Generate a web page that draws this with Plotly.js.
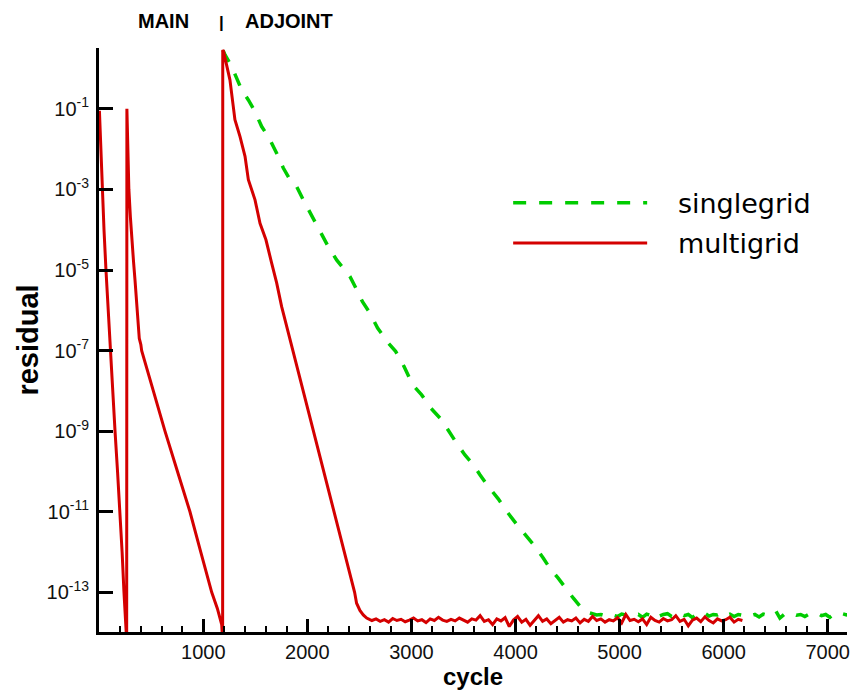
<!DOCTYPE html>
<html>
<head>
<meta charset="utf-8">
<script src="https://cdn.plot.ly/plotly-3.0.1.min.js"></script>
<style>html,body{margin:0;padding:0;background:#fff;}#chart{width:866px;height:690px;}</style>
</head>
<body>
<div id="chart"></div>
<script>
// ---- data (cycle, log10 residual) ----
var multigridCycles = [
  2, 4, 8, 24, 34, 46, 65, 88, 104, 128,
  152, 176, 200, 220, 238, 248, 258, 264, 266, 270,
  275, 285, 300, 312, 330, 344, 358, 370, 385, 400,
  408, 520, 632, 752, 872, 976, 1081, 1135, 1177, 1186,
  1187, 1195, 1205, 1225, 1256, 1288, 1304, 1353, 1401, 1433,
  1497, 1545, 1602, 1657, 1705, 1753, 1801, 1865, 1960, 2057,
  2156, 2256, 2355, 2454, 2473, 2505, 2537, 2570, 2601,
  2620, 2660, 2700, 2740, 2780, 2820, 2860, 2900, 2940, 2980,
  3020, 3060, 3100, 3140, 3180, 3220, 3260, 3300, 3340, 3380,
  3420, 3460, 3500, 3540, 3580, 3620, 3660, 3700, 3740, 3780,
  3820, 3860, 3900, 3940, 3980, 4020, 4060, 4100, 4140, 4180,
  4220, 4260, 4300, 4340, 4380, 4420, 4460, 4500, 4540, 4580,
  4620, 4660, 4700, 4740, 4780, 4820, 4860, 4900, 4940, 4980,
  5020, 5060, 5100, 5140, 5180, 5220, 5260, 5300, 5340, 5380,
  5420, 5460, 5500, 5540, 5580, 5620, 5660, 5700, 5740, 5780,
  5820, 5860, 5900, 5940, 5980, 6020, 6060, 6100, 6140, 6180
];
var multigridExp = [
  -1.05, -1.2, -1.5, -2.3, -3.0, -4.0, -5.0, -6.1, -7.0, -8.0,
  -9.0, -10.0, -11.0, -12.0, -13.0, -13.5, -14.2, -14.2, -1.0, -1.5,
  -2.3, -3.0, -3.7, -4.25, -4.8, -5.25, -5.8, -6.3, -6.7, -6.85,
  -7.0, -8.0, -9.0, -10.0, -11.0, -12.0, -13.0, -13.4, -13.8, -14.2,
  0.46, 0.42, 0.3, 0.13, -0.28, -0.94, -1.27, -1.69, -2.18, -2.76,
  -3.26, -3.84, -4.25, -4.83, -5.32, -5.91, -6.40, -7.02, -8.0, -9.0,
  -10.0, -11.0, -12.0, -13.0, -13.27, -13.45, -13.56, -13.64, -13.68,
  -13.70, -13.66, -13.72, -13.68, -13.74, -13.65, -13.70, -13.67, -13.73, -13.69,
  -13.64, -13.71, -13.68, -13.75, -13.66, -13.70, -13.62, -13.69, -13.72, -13.67,
  -13.71, -13.64, -13.70, -13.74, -13.66, -13.69, -13.58, -13.72, -13.68, -13.80,
  -13.66, -13.71, -13.63, -13.85, -13.69, -13.60, -13.74, -13.67, -13.82, -13.70,
  -13.58, -13.72, -13.66, -13.78, -13.69, -13.62, -13.74, -13.68, -13.71, -13.64,
  -13.76, -13.67, -13.72, -13.60, -13.70, -13.66, -13.74, -13.68, -13.71, -13.63,
  -13.76, -13.55, -13.70, -13.67, -13.73, -13.66, -13.80, -13.62, -13.70, -13.74,
  -13.65, -13.71, -13.68, -13.58, -13.72, -13.67, -13.83, -13.69, -13.64, -13.73,
  -13.61, -13.70, -13.76, -13.66, -13.71, -13.68, -13.62, -13.74, -13.67, -13.70
];
var singlegridCycles = [
  1190, 1209, 1273, 1369, 1433, 1497, 1561, 1625, 1705, 1769,
  1833, 1897, 1977, 2073, 2137, 2201, 2281, 2345, 2409, 2474,
  2528, 2601, 2675, 2777, 2848, 2928, 3012, 3098, 3187, 3290,
  3360, 3434, 3514, 3594, 3658, 3738, 3834, 3915, 4026, 4107,
  4186, 4266, 4330, 4410, 4490, 4554, 4635, 4698, 4779,
  4820, 4860, 4900, 4940, 4980, 5020, 5060, 5100, 5140, 5180,
  5220, 5260, 5300, 5340, 5380, 5420, 5460, 5500, 5540, 5580,
  5620, 5660, 5700, 5740, 5780, 5820, 5860, 5900, 5940, 5980,
  6020, 6060, 6100, 6140, 6180, 6220, 6260, 6300, 6340, 6380,
  6420, 6460, 6500, 6540, 6580, 6620, 6660, 6700, 6740, 6780,
  6820, 6860, 6900, 6940, 6980, 7020, 7060, 7100, 7140, 7180, 7200
];
var singlegridExp = [
  0.45, 0.34, 0.05, -0.53, -0.78, -1.07, -1.44, -1.69, -2.10, -2.47,
  -2.76, -2.93, -3.34, -3.80, -4.08, -4.42, -4.75, -4.95, -5.16, -5.49,
  -5.78, -6.07, -6.44, -6.81, -7.02, -7.39, -7.85, -8.10, -8.43, -8.72,
  -9.01, -9.30, -9.59, -9.83, -10.08, -10.37, -10.68, -10.99, -11.36, -11.61,
  -11.86, -12.15, -12.40, -12.65, -12.94, -13.14, -13.39, -13.50, -13.56,
  -13.55, -13.58, -13.53, -13.57, -13.60, -13.54, -13.56, -13.51, -13.58, -13.55,
  -13.62, -13.54, -13.57, -13.50, -13.59, -13.55, -13.53, -13.60, -13.56, -13.52,
  -13.58, -13.55, -13.63, -13.54, -13.57, -13.52, -13.59, -13.55, -13.56, -13.51,
  -13.58, -13.54, -13.60, -13.55, -13.57, -13.53, -13.58, -13.55, -13.61, -13.54,
  -13.57, -13.52, -13.46, -13.64, -13.55, -13.58, -13.53, -13.57, -13.55, -13.60,
  -13.54, -13.56, -13.52, -13.58, -13.55, -13.62, -13.54, -13.57, -13.53, -13.56, -13.55
];
var xTickVals = [1000, 2000, 3000, 4000, 5000, 6000, 7000];
var xTickText = ['1000', '2000', '3000', '4000', '5000', '6000', '7000'];
var yTickVals = [1e-13, 1e-11, 1e-9, 1e-7, 1e-5, 1e-3, 1e-1];
var yTickText = ['10<sup>-13</sup>', '10<sup>-11</sup>', '10<sup>-9</sup>', '10<sup>-7</sup>', '10<sup>-5</sup>', '10<sup>-3</sup>', '10<sup>-1</sup>'];
var seriesNames = ['singlegrid', 'multigrid'];

function pow10(arr) { return arr.map(function (v) { return Math.pow(10, v); }); }
var pad = '\u00a0\u00a0\u00a0';

var traces = [
  {
    x: singlegridCycles, y: pow10(singlegridExp), name: pad + seriesNames[0],
    legendgroup: 'g1',
    type: 'scatter', mode: 'lines',
    line: {color: '#00cc00', width: 3.5, dash: '13px,13px'}
  },
  {
    x: multigridCycles, y: pow10(multigridExp), name: pad + seriesNames[1],
    legendgroup: 'g2',
    type: 'scatter', mode: 'lines',
    line: {color: '#d40000', width: 3}
  }
];

var tickFont = {family: 'Liberation Sans, Arial, sans-serif', size: 20, color: '#111'};
var boldFont = 'Liberation Sans, Arial, sans-serif';

var layout = {
  width: 866, height: 690,
  margin: {l: 99, r: 19, t: 48, b: 58},
  paper_bgcolor: '#fff', plot_bgcolor: '#fff',
  hovermode: false,
  showlegend: true,
  legend: {
    x: 0.547, y: 0.776, xanchor: 'left', yanchor: 'top',
    font: {family: 'DejaVu Sans, sans-serif', size: 27, color: '#000'},
    itemwidth: 134, bgcolor: 'rgba(0,0,0,0)', borderwidth: 0,
    tracegroupgap: 2
  },
  xaxis: {
    range: [-2, 7185],
    showline: true, linecolor: '#000', linewidth: 3,
    showgrid: false, zeroline: false,
    ticks: 'inside', ticklen: 13, tickwidth: 3, tickcolor: '#000',
    tickvals: xTickVals, ticktext: xTickText,
    tickfont: tickFont,
    minor: {dtick: 200, tick0: 0, ticks: 'inside', ticklen: 6, tickwidth: 2, tickcolor: '#000', showgrid: false},
    title: {text: 'cycle', font: {family: boldFont, size: 24, color: '#000', weight: 'bold'}, standoff: 6}
  },
  yaxis: {
    type: 'log',
    range: [-13.985, 0.51],
    showline: true, linecolor: '#000', linewidth: 3,
    showgrid: false, zeroline: false,
    ticks: 'inside', ticklen: 14, tickwidth: 3, tickcolor: '#000',
    tickvals: yTickVals, ticktext: yTickText,
    tickfont: tickFont,
    ticklabelstandoff: 3,
    title: {text: 'residual', font: {family: boldFont, size: 29, color: '#000', weight: 'bold'}, standoff: 0}
  },
  annotations: [
    {text: 'MAIN', xref: 'paper', yref: 'paper', x: 0.086, y: 1.046, xanchor: 'center', yanchor: 'middle', showarrow: false,
     font: {family: boldFont, size: 20, color: '#000', weight: 'bold'}},
    {text: '|', xref: 'paper', yref: 'paper', x: 0.1636, y: 1.044, xanchor: 'center', yanchor: 'middle', showarrow: false,
     font: {family: boldFont, size: 17, color: '#000', weight: 'bold'}},
    {text: 'ADJOINT', xref: 'paper', yref: 'paper', x: 0.2537, y: 1.046, xanchor: 'center', yanchor: 'middle', showarrow: false,
     font: {family: boldFont, size: 20, color: '#000', weight: 'bold'}}
  ]
};

Plotly.newPlot('chart', traces, layout, {staticPlot: true, displayModeBar: false});
</script>
</body>
</html>
